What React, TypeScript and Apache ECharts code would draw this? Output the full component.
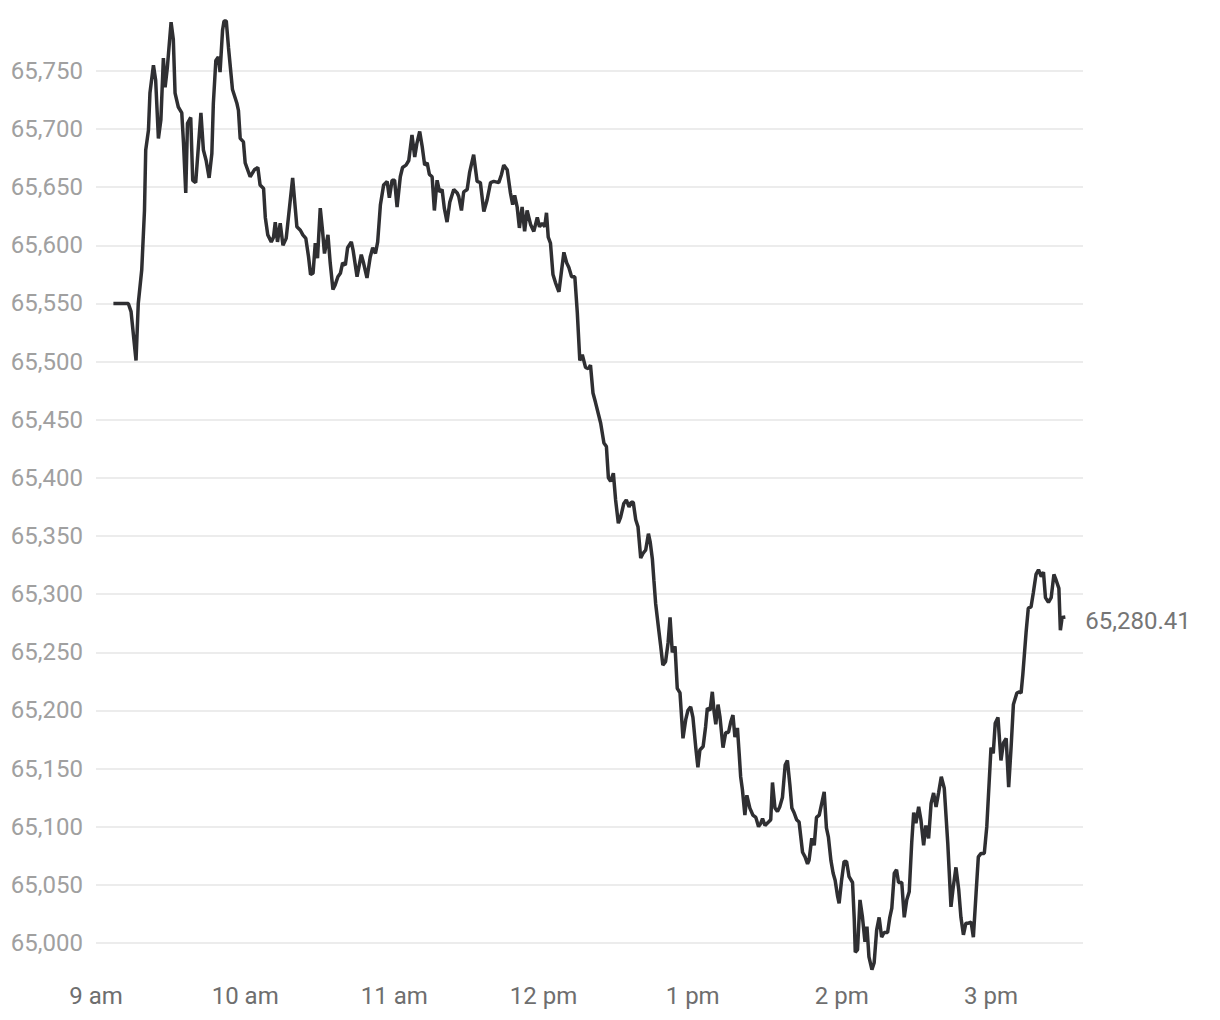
import React, { useEffect, useRef } from "react";
import * as echarts from "echarts";

// minutes after 9:00 am
const times: number[] = [
  7.0, 13.0, 14.1, 16.1, 17.0, 18.4, 19.5, 20.0, 21.1, 21.7, 23.1, 24.0, 25.1, 26.1, 27.1, 27.8, 28.7, 30.2, 31.1, 31.8,
  33.1, 34.5, 35.2, 36.1, 36.8, 38.1, 38.9, 40.1, 42.2, 43.2, 44.3, 45.5, 46.6, 47.2, 48.2, 49.2, 49.9, 50.9, 51.5, 52.4,
  53.3, 54.9, 56.7, 57.3, 58.0, 59.3, 60.0, 62.0, 63.7, 65.1, 66.0, 67.4, 68.1, 69.1, 70.5, 71.4, 72.1, 73.0, 74.1, 75.2,
  76.5, 79.1, 80.8, 82.2, 83.2, 84.4, 85.5, 86.3, 87.3, 88.2, 89.1, 90.2, 91.1, 91.9, 93.3, 94.2, 95.3, 96.2, 97.3, 98.3,
  99.2, 100.3, 101.2, 102.7, 103.4, 105.0, 106.7, 107.6, 109.0, 110.3, 111.3, 112.4, 113.3, 114.4, 115.7, 117.1, 118.0, 119.1, 120.1, 121.1,
  122.4, 123.3, 124.7, 125.8, 127.1, 128.2, 129.1, 130.2, 131.2, 132.2, 133.2, 134.1, 135.2, 136.1, 137.2, 138.2, 139.2, 140.1, 141.2, 142.3,
  143.9, 145.3, 145.9, 147.0, 147.9, 149.3, 150.3, 151.9, 153.3, 154.6, 156.0, 157.3, 158.7, 160.0, 162.0, 163.1, 164.0, 165.4, 166.7, 167.6,
  168.4, 169.4, 170.3, 171.4, 172.4, 173.4, 174.8, 176.1, 177.5, 178.4, 179.5, 180.5, 181.2, 181.9, 182.8, 183.8, 184.8, 186.2, 187.3, 188.2,
  189.3, 190.2, 191.3, 192.6, 193.6, 194.6, 195.6, 196.9, 198.0, 198.9, 199.9, 200.9, 203.0, 204.3, 205.3, 206.1, 207.0, 208.1, 209.0, 210.1,
  211.0, 212.3, 213.3, 214.4, 215.3, 216.1, 217.1, 218.0, 219.1, 220.0, 221.1, 222.2, 222.9, 223.8, 224.4, 225.1, 226.2, 227.1, 228.0, 229.1,
  230.1, 230.9, 231.8, 232.9, 233.8, 234.9, 236.1, 237.2, 238.1, 239.2, 240.1, 241.2, 242.1, 242.9, 244.2, 245.2, 245.9, 247.0, 247.9, 248.6,
  249.3, 250.2, 251.0, 252.2, 253.3, 254.4, 255.3, 256.2, 257.0, 258.0, 258.7, 259.3, 260.0, 261.0, 261.8, 263.0, 264.2, 265.4, 266.5, 267.4,
  268.1, 269.1, 270.5, 271.4, 272.1, 273.1, 274.1, 275.0, 276.1, 277.2, 278.1, 279.1, 279.9, 280.8, 281.8, 282.8, 284.2, 285.2, 286.2, 286.8,
  287.9, 288.9, 289.8, 290.9, 292.0, 292.9, 293.8, 294.6, 295.6, 296.5, 297.3, 298.3, 298.9, 299.9, 300.9, 301.9, 302.9, 304.3, 305.0, 305.4,
  306.3, 307.3, 308.3, 309.3, 310.1, 310.9, 312.1, 313.0, 314.0, 315.0, 316.0, 317.0, 318.4, 319.3, 320.1, 321.1, 322.0, 322.8, 324.1, 325.1,
  326.1, 327.1, 328.1, 328.9, 329.8, 330.9, 331.8, 332.9, 333.8, 334.9, 335.9, 336.9, 337.9, 338.9, 340.0, 341.2, 342.6, 343.9, 344.8, 345.9,
  347.0, 347.9, 348.9, 349.9, 350.9, 352.0, 352.9, 354.0, 354.9, 356.0, 357.3, 358.3, 360.0, 360.9, 361.7, 362.8, 364.0, 365.0, 366.1, 367.1,
  368.1, 369.0, 370.4, 371.4, 372.1, 372.8, 374.1, 375.0, 376.1, 377.0, 378.1, 379.1, 380.2, 381.1, 381.9, 383.1, 384.2, 385.3, 386.2, 387.3,
  387.9, 388.6, 389.9,
];

const prices: number[] = [
  65550, 65550, 65543, 65501, 65550, 65579, 65630, 65682, 65699, 65731, 65755, 65742, 65692, 65708, 65761, 65736, 65753, 65792, 65777, 65731,
  65719, 65714, 65688, 65645, 65705, 65710, 65656, 65654, 65714, 65682, 65673, 65658, 65679, 65722, 65759, 65762, 65749, 65785, 65793, 65793,
  65770, 65734, 65722, 65716, 65692, 65689, 65671, 65659, 65665, 65667, 65652, 65649, 65624, 65609, 65603, 65607, 65620, 65603, 65619, 65600,
  65606, 65658, 65616, 65613, 65609, 65606, 65590, 65575, 65576, 65602, 65589, 65632, 65613, 65593, 65609, 65585, 65562, 65566, 65573, 65576,
  65585, 65583, 65598, 65603, 65596, 65573, 65592, 65585, 65572, 65590, 65598, 65593, 65603, 65635, 65652, 65655, 65641, 65656, 65656, 65633,
  65659, 65667, 65669, 65673, 65695, 65676, 65688, 65698, 65685, 65669, 65671, 65661, 65659, 65630, 65656, 65646, 65648, 65632, 65620, 65637,
  65648, 65645, 65642, 65630, 65646, 65648, 65663, 65678, 65655, 65654, 65629, 65639, 65654, 65655, 65654, 65661, 65669, 65665, 65645, 65635,
  65643, 65633, 65615, 65633, 65612, 65630, 65618, 65612, 65624, 65616, 65619, 65616, 65628, 65607, 65602, 65575, 65568, 65560, 65579, 65594,
  65585, 65581, 65573, 65573, 65542, 65501, 65506, 65495, 65494, 65497, 65473, 65465, 65447, 65430, 65427, 65400, 65397, 65404, 65381, 65361,
  65366, 65378, 65381, 65375, 65379, 65379, 65364, 65358, 65331, 65335, 65338, 65352, 65345, 65330, 65312, 65292, 65272, 65256, 65239, 65242,
  65258, 65280, 65250, 65255, 65219, 65215, 65176, 65192, 65200, 65203, 65194, 65169, 65151, 65166, 65169, 65186, 65202, 65200, 65216, 65199,
  65188, 65205, 65194, 65168, 65181, 65181, 65190, 65196, 65177, 65185, 65163, 65143, 65132, 65110, 65127, 65116, 65110, 65108, 65100, 65103,
  65107, 65101, 65104, 65106, 65138, 65116, 65113, 65117, 65125, 65153, 65157, 65136, 65116, 65112, 65106, 65104, 65078, 65074, 65068, 65071,
  65090, 65084, 65108, 65110, 65121, 65130, 65099, 65091, 65071, 65060, 65054, 65040, 65034, 65054, 65070, 65070, 65057, 65052, 65020, 64992,
  64994, 65037, 65022, 65001, 65014, 64988, 64977, 64983, 65011, 65022, 65005, 65009, 65009, 65022, 65030, 65060, 65063, 65052, 65052, 65022,
  65037, 65044, 65086, 65112, 65103, 65117, 65106, 65084, 65101, 65090, 65120, 65129, 65117, 65129, 65143, 65133, 65086, 65031, 65048, 65065,
  65046, 65022, 65007, 65017, 65017, 65018, 65005, 65043, 65074, 65077, 65077, 65100, 65168, 65163, 65189, 65194, 65157, 65172, 65176, 65134,
  65169, 65205, 65215, 65216, 65215, 65231, 65267, 65288, 65289, 65301, 65317, 65321, 65315, 65319, 65297, 65293, 65297, 65317, 65312, 65305,
  65269, 65280, 65280.41,
];

const hourTicks: number[] = [0, 60, 120, 180, 240, 300, 360];
const hourLabels: string[] = ["9 am", "10 am", "11 am", "12 pm", "1 pm", "2 pm", "3 pm"];

const X_MIN = 0;
const X_MAX = 397;
const Y_MIN = 64975;
const Y_MAX = 65799;

export default function App() {
  const ref = useRef<HTMLDivElement>(null);

  useEffect(() => {
    if (!ref.current) return;
    const chart = echarts.init(ref.current, undefined, { renderer: "svg" });
    const data = times.map((t, i) => [t, prices[i]]);
    const font = "Roboto, 'Noto Sans', sans-serif";
    chart.setOption({
      animation: false,
      backgroundColor: "#ffffff",
      grid: { left: 96, right: 137, top: 14, bottom: 48, containLabel: false },
      xAxis: {
        type: "value",
        min: X_MIN,
        max: X_MAX,
        interval: 60,
        axisLine: { show: false },
        axisTick: { show: false },
        splitLine: { show: false },
        axisLabel: {
          showMaxLabel: false,
          color: "#6e6e6e",
          fontSize: 24,
          fontFamily: font,
          margin: 12,
          formatter: (v: number) => {
            const idx = hourTicks.indexOf(v);
            return idx >= 0 ? hourLabels[idx] : "";
          },
        },
      },
      yAxis: {
        type: "value",
        min: Y_MIN,
        max: Y_MAX,
        splitNumber: 16,
        minInterval: 50,
        maxInterval: 50,
        axisLine: { show: false },
        axisTick: { show: false },
        splitLine: {
          show: true,
          showMinLine: false,
          showMaxLine: false,
          lineStyle: { color: "#e6e6e6", width: 1.5 },
        },
        axisLabel: {
          showMinLabel: false,
          showMaxLabel: false,
          color: "#a0a0a0",
          fontSize: 24,
          fontFamily: font,
          margin: 13,
          formatter: (v: number) => v.toLocaleString("en-US"),
        },
      },
      series: [
        {
          type: "line",
          data,
          showSymbol: false,
          symbol: "none",
          lineStyle: { color: "#2f2f32", width: 3.5 },
          itemStyle: { color: "#2f2f32" },
          endLabel: {
            show: true,
            distance: 20,
            offset: [0, 4],
            color: "#757575",
            fontSize: 24,
            fontFamily: font,
            formatter: (p: any) =>
              Number(p.value[1]).toLocaleString("en-US", {
                minimumFractionDigits: 2,
                maximumFractionDigits: 2,
              }),
          },
        },
      ],
    });
    return () => chart.dispose();
  }, []);

  return (
    <div
      ref={ref}
      style={{ position: "absolute", left: 0, top: 0, width: 1220, height: 1020 }}
    />
  );
}
